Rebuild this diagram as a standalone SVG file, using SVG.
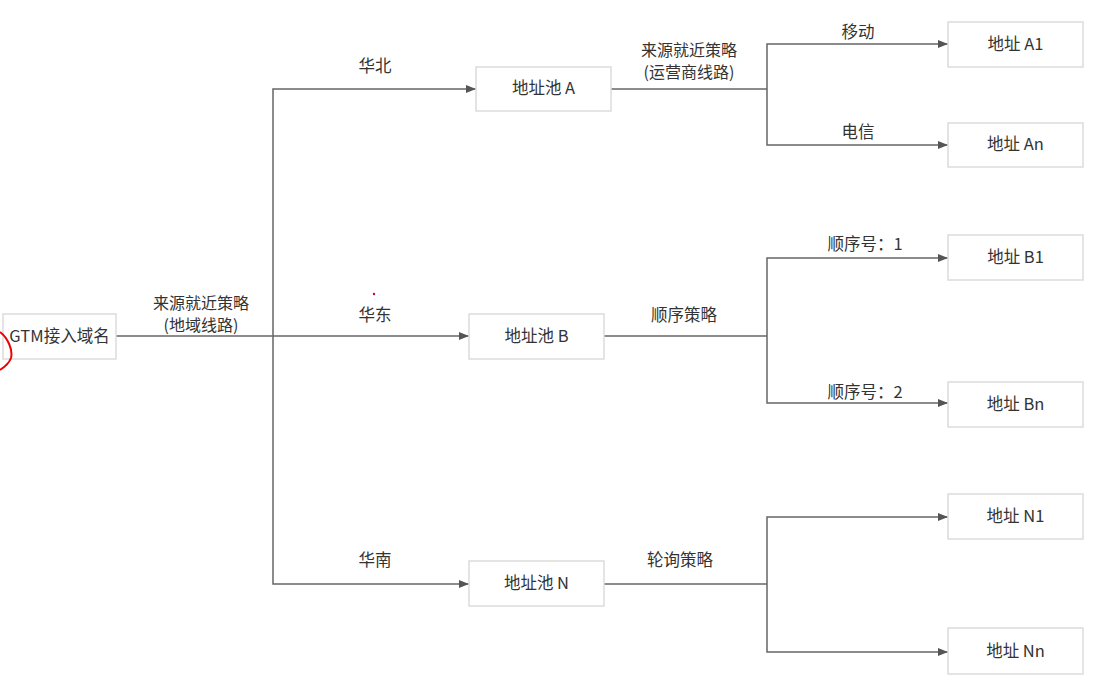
<svg xmlns="http://www.w3.org/2000/svg" width="1099" height="680" viewBox="0 0 1099 680">
<defs>
<style>
.box{fill:#fff;stroke:#dcdcdc;stroke-width:1.5}
.t{font-family:"Noto Sans CJK SC","Liberation Sans",sans-serif;font-size:16.5px;fill:#333;text-anchor:middle}
.s{font-size:16px}
.ln{fill:none;stroke:#666;stroke-width:1.5}
</style>
<marker id="ah" viewBox="0 0 10 10" refX="10" refY="5" markerWidth="10" markerHeight="10" markerUnits="userSpaceOnUse" orient="auto">
<path d="M0,1 L10,5 L0,9 Z" fill="#555"/>
</marker>
</defs>
<rect width="1099" height="680" fill="#fff"/>
<g id="connectors">
<path class="ln" d="M116,336 H273"/>
<path class="ln" d="M273,336 V89 H476" marker-end="url(#ah)"/>
<path class="ln" d="M273,336 H469" marker-end="url(#ah)"/>
<path class="ln" d="M273,336 V584 H469" marker-end="url(#ah)"/>
<path class="ln" d="M611,89 H767"/>
<path class="ln" d="M767,89 V44 H948" marker-end="url(#ah)"/>
<path class="ln" d="M767,89 V145 H948" marker-end="url(#ah)"/>
<path class="ln" d="M604,336 H767"/>
<path class="ln" d="M767,336 V258 H948" marker-end="url(#ah)"/>
<path class="ln" d="M767,336 V403 H948" marker-end="url(#ah)"/>
<path class="ln" d="M604,584 H767"/>
<path class="ln" d="M767,584 V517 H948" marker-end="url(#ah)"/>
<path class="ln" d="M767,584 V652 H948" marker-end="url(#ah)"/>
<text class="t s" x="201" y="309">来源就近策略</text>
<text class="t s" x="201" y="331">(地域线路)</text>
<text class="t" x="375" y="72">华北</text>
<text class="t" x="375" y="321">华东</text>
<text class="t" x="375" y="566">华南</text>
<text class="t s" x="689" y="56">来源就近策略</text>
<text class="t s" x="689" y="78">(运营商线路)</text>
<text class="t" x="684" y="321">顺序策略</text>
<text class="t" x="680" y="566">轮询策略</text>
<text class="t" x="858" y="38">移动</text>
<text class="t" x="858" y="138">电信</text>
<text class="t" x="865" y="250">顺序号：1</text>
<text class="t" x="865" y="398">顺序号：2</text>
</g>
<g id="gtm"><rect class="box" x="3" y="314" width="113" height="45"/><text class="t" x="59.5" y="342">GTM接入域名</text></g>
<g id="poolA"><rect class="box" x="476" y="67" width="135" height="44"/><text class="t" x="543.5" y="94">地址池 A</text></g>
<g id="poolB"><rect class="box" x="469" y="314" width="135" height="45"/><text class="t" x="536.5" y="342">地址池 B</text></g>
<g id="poolN"><rect class="box" x="469" y="561" width="135" height="45"/><text class="t" x="536.5" y="589">地址池 N</text></g>
<g id="a1"><rect class="box" x="948" y="22" width="135" height="45"/><text class="t" x="1015.5" y="50">地址 A1</text></g>
<g id="an"><rect class="box" x="948" y="123" width="135" height="44"/><text class="t" x="1015.5" y="150">地址 An</text></g>
<g id="b1"><rect class="box" x="948" y="235" width="135" height="45"/><text class="t" x="1015.5" y="263">地址 B1</text></g>
<g id="bn"><rect class="box" x="948" y="382" width="135" height="45"/><text class="t" x="1015.5" y="410">地址 Bn</text></g>
<g id="n1"><rect class="box" x="948" y="494" width="135" height="45"/><text class="t" x="1015.5" y="522">地址 N1</text></g>
<g id="nn"><rect class="box" x="948" y="628" width="135" height="46"/><text class="t" x="1015.5" y="657">地址 Nn</text></g>
<g id="annot">
<path d="M0,332 C8,338 13,350 11,358 C9,364 3,368 0,370" fill="none" stroke="#e00" stroke-width="2"/>
<circle cx="374" cy="294" r="1.2" fill="#c03"/>
</g>
</svg>
